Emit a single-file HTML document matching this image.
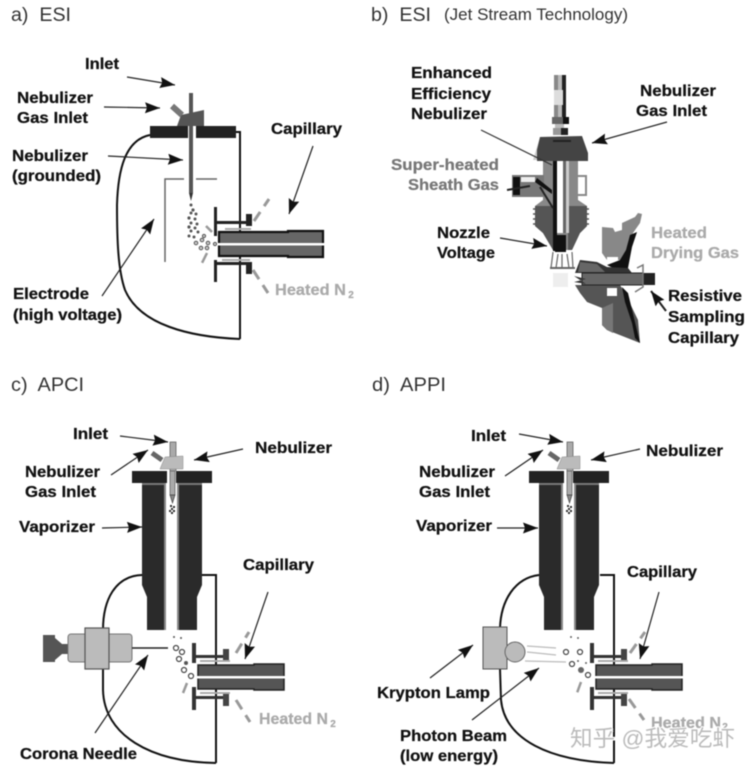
<!DOCTYPE html>
<html><head><meta charset="utf-8"><style>
html,body{margin:0;padding:0;background:#fff;width:752px;height:770px;overflow:hidden}
svg{display:block;filter:blur(.5px)}
text{font-family:"Liberation Sans","Noto Sans CJK SC",sans-serif}
.t{font-size:16px;font-weight:bold;fill:#111;stroke:#111;stroke-width:.25}
.h{font-size:19px;fill:#333}
.g1{fill:#aaa;stroke:#aaa}.g2{fill:#777;stroke:#777}
.a{stroke:#222;stroke-width:1.2;fill:none;marker-end:url(#m)}
.d{stroke:#999;stroke-width:3;stroke-dasharray:11 7;fill:none}
.w{stroke:#111;fill:none;stroke-width:2}
</style></head><body>
<svg width="752" height="770" viewBox="0 0 752 770" xmlns="http://www.w3.org/2000/svg">
<defs>
<marker id="m" markerUnits="userSpaceOnUse" markerWidth="16" markerHeight="12" refX="15" refY="5.5" orient="auto"><path d="M0 0L15 5.5L0 11L2 5.5Z" fill="#111"/></marker>
<g id="top">
<rect x="38" y="-29" width="6" height="30" fill="#aaa" stroke="#555" stroke-width=".7"/>
<rect x="0" y="0" width="80" height="12" fill="#222"/>
<rect x="35" y="0" width="9" height="12" fill="#fff"/>
<path d="M10 12H34V159H15V126L10 114Z" fill="#2a2a2a"/>
<path d="M45 12H70V114L65 126V159H45Z" fill="#2a2a2a"/>
<rect x="32" y="12" width="2" height="147" fill="#888"/>
<rect x="45" y="12" width="2" height="147" fill="#888"/>
<rect x="10" y="12" width="22" height="2" fill="#777"/>
<rect x="47" y="12" width="23" height="2" fill="#777"/>
<rect x="38" y="0" width="5" height="24" fill="#aaa" stroke="#555" stroke-width=".7"/>
<path d="M38 24H43L40.5 32Z" fill="#888" stroke="#444" stroke-width=".7"/>
<path d="M28 -2L33 -14L51 -15V-2Z" fill="#bbb" stroke="#888" stroke-width=".5"/>
<path d="M20 -18L30 -11" stroke="#666" stroke-width="5"/>
<g fill="#222"><circle cx="39" cy="35" r="1.1"/><circle cx="42" cy="36" r="1.1"/><circle cx="40" cy="38" r="1.1"/><circle cx="38" cy="40" r="1.1"/><circle cx="42" cy="40" r="1.1"/><circle cx="40" cy="42" r="1.1"/></g>
</g>
<g id="cap">
<path d="M1 1H57V0H87V26H57V25H1Z" fill="#555" stroke="#222" stroke-width="1.5"/>
<rect x="0" y="12" width="88" height="2.5" fill="#fff"/>
<rect x="-5" y="-21" width="4" height="20" fill="#333"/>
<rect x="-5" y="23" width="4" height="23" fill="#333"/>
<rect x="-3" y="-9" width="33" height="3" fill="#333"/>
<rect x="-1" y="32" width="32" height="3" fill="#333"/>
<rect x="26" y="-15" width="6" height="11" fill="#444"/>
<rect x="26" y="30" width="6" height="12" fill="#444"/>
<rect x="3" y="-4" width="30" height="2" fill="#aaa"/>
<rect x="3" y="28" width="30" height="2" fill="#aaa"/>
</g>
</defs>
<rect width="752" height="770" fill="#fff"/>

<!-- a -->
<text class="h" x="11" y="21" textLength="60" lengthAdjust="spacingAndGlyphs" xml:space="preserve">a)  ESI</text>
<path class="w" d="M236 132H240V339"/>
<path class="w" d="M150 135C125 140 118 170 117 205C117 240 118 270 125 290C140 325 190 337 240 339"/>
<path d="M165 262V179H184M196 179H217" fill="none" stroke="#666" stroke-width="1.5"/>
<rect x="189" y="93" width="4" height="35" fill="#555"/>
<rect x="150" y="126" width="86" height="12" fill="#222"/>
<rect x="188" y="126" width="8" height="12" fill="#fff"/>
<path d="M177 126L181 115L204 110V126Z" fill="#555"/>
<path d="M172 106L182 115" stroke="#777" stroke-width="6"/>
<rect x="189" y="126" width="4" height="67" fill="#555"/>
<path d="M189 193H193L191 201Z" fill="#333"/>
<g fill="#555"><circle cx="191" cy="205" r="1.5"/><circle cx="193" cy="210" r="1.6"/><circle cx="191" cy="213" r="1.5"/><circle cx="196" cy="214" r="1.5"/><circle cx="189" cy="218" r="1.6"/><circle cx="195" cy="219" r="1.5"/><circle cx="191" cy="223" r="1.5"/><circle cx="197" cy="224" r="1.5"/><circle cx="189" cy="227" r="1.6"/><circle cx="195" cy="228" r="1.5"/><circle cx="191" cy="231" r="1.5"/><circle cx="198" cy="232" r="1.5"/><circle cx="189" cy="236" r="1.5"/><circle cx="194" cy="237" r="1.5"/></g>
<g fill="#ccc" stroke="#555" stroke-width="1"><circle cx="196" cy="243" r="1.8"/><circle cx="202" cy="240" r="1.8"/><circle cx="208" cy="243" r="1.8"/><circle cx="215" cy="244" r="1.6"/><circle cx="201" cy="248" r="1.8"/><circle cx="207" cy="248" r="1.8"/><circle cx="204" cy="236" r="1.6"/></g>
<rect x="214" y="207" width="3" height="29" fill="#222"/>
<rect x="214" y="260" width="3" height="22" fill="#222"/>
<rect x="217" y="221" width="30" height="3" fill="#222"/>
<rect x="217" y="262" width="30" height="3" fill="#222"/>
<rect x="246" y="214" width="6" height="12" fill="#222"/>
<rect x="246" y="262" width="6" height="12" fill="#222"/>
<rect x="225" y="228" width="26" height="2" fill="#aaa"/>
<rect x="222" y="259" width="28" height="2" fill="#aaa"/>
<path d="M219 232H288V231H323V257H288V256H219Z" fill="#666" stroke="#111" stroke-width="2.2"/>
<rect x="217" y="243" width="108" height="2.5" fill="#fff"/>
<path class="d" d="M254 221L269 199"/>
<path class="d" d="M253 270L268 293"/>
<path class="d" d="M212 232L206 226M207 253L201 265" style="stroke-width:2.5"/>
<path class="a" d="M127 77L175 85"/>
<path class="a" d="M104 107L160 108"/>
<path class="a" d="M108 156L183 160"/>
<path class="a" d="M102 296L154 219"/>
<path class="a" d="M313 146L289 214"/>
<text class="t" x="85" y="69" textLength="34" lengthAdjust="spacingAndGlyphs">Inlet</text>
<text class="t" x="17" y="103" textLength="76" lengthAdjust="spacingAndGlyphs">Nebulizer</text>
<text class="t" x="17" y="123" textLength="71" lengthAdjust="spacingAndGlyphs">Gas Inlet</text>
<text class="t" x="12" y="161" textLength="76" lengthAdjust="spacingAndGlyphs">Nebulizer</text>
<text class="t" x="12" y="181" textLength="89" lengthAdjust="spacingAndGlyphs">(grounded)</text>
<text class="t" x="13" y="299" textLength="76" lengthAdjust="spacingAndGlyphs">Electrode</text>
<text class="t" x="13" y="320" textLength="109" lengthAdjust="spacingAndGlyphs">(high voltage)</text>
<text class="t" x="271" y="134" textLength="71" lengthAdjust="spacingAndGlyphs">Capillary</text>
<text class="t g1" x="275" y="295" textLength="71" lengthAdjust="spacingAndGlyphs">Heated N</text>
<text class="t g1" x="351" y="298" style="font-size:10px" text-anchor="middle">2</text>

<!-- b -->
<text class="h" x="371" y="21" textLength="60" lengthAdjust="spacingAndGlyphs" xml:space="preserve">b)  ESI</text>
<text x="444" y="20" font-size="16.5" fill="#333" textLength="184" lengthAdjust="spacingAndGlyphs">(Jet Stream Technology)</text>
<rect x="554" y="75" width="4" height="42" fill="#888"/>
<rect x="558" y="75" width="4" height="42" fill="#bbb"/>
<rect x="562" y="75" width="4" height="42" fill="#222"/>
<rect x="554" y="90" width="9" height="15" fill="#ddd"/>
<rect x="552" y="117" width="17" height="7" fill="#666"/><rect x="563" y="117" width="6" height="7" fill="#111"/>
<rect x="555" y="124" width="9" height="4" fill="#bbb"/>
<rect x="553" y="128" width="15" height="7" fill="#999"/><rect x="561" y="128" width="7" height="7" fill="#222"/>
<path d="M533 160L540 137H548L537 160Z" fill="#ccc"/>
<path d="M537 150L540 137L582 136L588 153V161H537Z" fill="#444"/>
<rect x="553" y="140" width="18" height="2" fill="#222"/>
<path d="M543 161H578V200L587 206V226L580 233L572 250H553L543 233L535 226V206L543 200Z" fill="#888"/>
<path d="M535 206H553V250L543 233L535 226ZM568 206H587V226L580 233L572 250H568Z" fill="#555"/>
<g stroke="#555" stroke-width="1.5"><path d="M533 209H537M533 214H537M533 219H537M533 224H537M585 209H589M585 214H589M585 219H589M585 224H589"/></g>
<rect x="553" y="161" width="4" height="90" fill="#111"/>
<rect x="557" y="161" width="6" height="72" fill="#fff"/>
<rect x="563" y="161" width="3" height="72" fill="#666"/>
<rect x="566" y="161" width="3" height="72" fill="#ccc"/>
<rect x="555" y="235" width="11" height="17" fill="#111"/>
<path d="M512 175H544V197H512Z" fill="#777"/>
<rect x="513" y="177" width="7" height="18" fill="#111"/><rect x="521" y="177" width="14" height="5" fill="#eee"/><path d="M537 178L552 190V194L535 182Z" fill="#111"/>
<path d="M507 190L530 186M540 187L553 208" stroke="#222" stroke-width="2" fill="none"/>
<path d="M578 176H586V195H578" fill="none" stroke="#888" stroke-width="2"/>
<path d="M553 252L551 268M572 252L573 268M558 254L556 268M567 254L569 268M562 254V268" stroke="#666" stroke-width="1.2" fill="none"/>
<rect x="550" y="267" width="25" height="2" fill="#666"/>
<rect x="553" y="273" width="15" height="14" fill="#eee"/>
<path d="M602 227L613 228L615 232L622 230L622 223L635 217L638 213L642 214L640 223L633 233L628 247L627 260H607L602 253Z" fill="#888"/>
<rect x="607" y="257" width="11" height="3" fill="#fff"/>
<path d="M637 232L632 247L628 268H613L607 265L620 260L626 250L630 235Z" fill="#111"/>
<path d="M575 273L580 260L597 262L607 267L628 268L632 273Z" fill="#333"/>
<path d="M580 262L597 264L605 272H578Z" fill="#666"/>
<path d="M575 285L580 293L587 302L602 308V325L607 330L640 343L638 320L625 293L620 285Z" fill="#555"/>
<path d="M602 308L613 303V333L607 330L602 325Z" fill="#777"/>
<path d="M622 287L628 293L640 343L635 338L632 323L625 302Z" fill="#111"/>
<rect x="607" y="288" width="10" height="8" fill="#fff"/>
<rect x="582" y="273" width="61" height="12" fill="#666" stroke="#222"/>
<rect x="643" y="273" width="12" height="12" fill="#222"/>
<path d="M574 276L586 279L574 282L586 284Z" fill="#333"/>
<path d="M637 268L643 265V287L635 292" fill="none" stroke="#777" stroke-width="1.5"/>
<path d="M481 130L552 165" stroke="#333" stroke-width="1.2"/>
<path class="a" d="M667 122L592 143"/>
<path class="a" d="M500 238L547 246"/>
<path class="a" d="M666 311L651 291" style="stroke-width:2"/>
<text class="t" x="411" y="78" textLength="81" lengthAdjust="spacingAndGlyphs">Enhanced</text>
<text class="t" x="411" y="99" textLength="80" lengthAdjust="spacingAndGlyphs">Efficiency</text>
<text class="t" x="411" y="119" textLength="76" lengthAdjust="spacingAndGlyphs">Nebulizer</text>
<text class="t" x="640" y="96" textLength="76" lengthAdjust="spacingAndGlyphs">Nebulizer</text>
<text class="t" x="636" y="116" textLength="71" lengthAdjust="spacingAndGlyphs">Gas Inlet</text>
<text class="t g2" x="391" y="170" textLength="108" lengthAdjust="spacingAndGlyphs">Super-heated</text>
<text class="t g2" x="408" y="190" textLength="91" lengthAdjust="spacingAndGlyphs">Sheath Gas</text>
<text class="t" x="437" y="238" textLength="53" lengthAdjust="spacingAndGlyphs">Nozzle</text>
<text class="t" x="437" y="258" textLength="58" lengthAdjust="spacingAndGlyphs">Voltage</text>
<text class="t g1" x="651" y="238" textLength="56" lengthAdjust="spacingAndGlyphs">Heated</text>
<text class="t g1" x="651" y="258" textLength="88" lengthAdjust="spacingAndGlyphs">Drying Gas</text>
<text class="t" x="668" y="301" textLength="74" lengthAdjust="spacingAndGlyphs">Resistive</text>
<text class="t" x="668" y="322" textLength="77" lengthAdjust="spacingAndGlyphs">Sampling</text>
<text class="t" x="668" y="343" textLength="71" lengthAdjust="spacingAndGlyphs">Capillary</text>

<!-- c -->
<text class="h" x="11" y="391" textLength="73" lengthAdjust="spacingAndGlyphs" xml:space="preserve">c)  APCI</text>
<path class="w" d="M202 575H216V763"/>
<path class="w" d="M142 575C115 576 103 600 103 630V690C104 735 150 762 216 763"/>
<use href="#top" x="132" y="471"/>
<rect x="43" y="635" width="12" height="27" fill="#555"/>
<path d="M55 638L62 644H68V654H62L55 660Z" fill="#555"/>
<rect x="68" y="634" width="64" height="28" rx="3" fill="#bbb" stroke="#777"/>
<rect x="85" y="628" width="24" height="41" fill="#bbb" stroke="#555" stroke-width="1.2"/>
<path d="M132 648H168" stroke="#222" stroke-width="1.5"/>
<g fill="#fff" stroke="#444" stroke-width="1.2"><circle cx="176" cy="648" r="2.5"/><circle cx="182" cy="652" r="2.5"/><circle cx="179" cy="659" r="2.5"/><circle cx="184" cy="670" r="2.5"/><circle cx="191" cy="676" r="2.5"/></g>
<g fill="#555"><circle cx="174" cy="637" r="1"/><circle cx="181" cy="638" r="1"/><circle cx="186" cy="663" r="2"/></g>
<use href="#cap" x="197" y="664"/>
<path class="d" d="M236 653L249 632"/>
<path class="d" d="M236 700L250 722"/>
<path class="d" d="M187 683L183 693" style="stroke-width:2.5"/>
<path class="a" d="M120 436L168 442"/>
<path class="a" d="M111 475L148 450"/>
<path class="a" d="M243 449L194 460"/>
<path class="a" d="M102 528L142 527"/>
<path class="a" d="M268 592L245 659"/>
<path class="a" d="M95 733L148 655"/>
<text class="t" x="73" y="439" textLength="35" lengthAdjust="spacingAndGlyphs">Inlet</text>
<text class="t" x="25" y="477" textLength="75" lengthAdjust="spacingAndGlyphs">Nebulizer</text>
<text class="t" x="25" y="497" textLength="71" lengthAdjust="spacingAndGlyphs">Gas Inlet</text>
<text class="t" x="255" y="453" textLength="77" lengthAdjust="spacingAndGlyphs">Nebulizer</text>
<text class="t" x="19" y="532" textLength="76" lengthAdjust="spacingAndGlyphs">Vaporizer</text>
<text class="t" x="243" y="570" textLength="71" lengthAdjust="spacingAndGlyphs">Capillary</text>
<text class="t g1" x="259" y="724" textLength="69" lengthAdjust="spacingAndGlyphs">Heated N</text>
<text class="t g1" x="333" y="727" style="font-size:10px" text-anchor="middle">2</text>
<text class="t" x="20" y="759" textLength="117" lengthAdjust="spacingAndGlyphs">Corona Needle</text>

<!-- d -->
<text class="h" x="372" y="391" textLength="74" lengthAdjust="spacingAndGlyphs" xml:space="preserve">d)  APPI</text>
<path class="w" d="M600 575H614V763"/>
<path class="w" d="M539 575C515 578 501 600 500 628M500 669L501 700C505 740 550 761 614 763"/>
<use href="#top" x="529" y="471"/>
<rect x="483" y="627" width="24" height="42" fill="#bbb" stroke="#555" stroke-width="1"/>
<circle cx="515" cy="652" r="10" fill="#bbb" stroke="#666"/>
<path d="M527 646L556 648M527 652L556 655M525 661L566 662" stroke="#bbb" stroke-width="1.2" fill="none"/>
<g fill="#fff" stroke="#444" stroke-width="1.2"><circle cx="566" cy="652" r="2.5"/><circle cx="580" cy="652" r="2.5"/><circle cx="572" cy="664" r="2.5"/><circle cx="588" cy="675" r="2.5"/></g>
<g fill="#666"><circle cx="581" cy="670" r="3"/><circle cx="571" cy="637" r="1"/><circle cx="578" cy="638" r="1"/><circle cx="578" cy="661" r="1"/><circle cx="586" cy="663" r="1"/></g>
<use href="#cap" x="595" y="664"/>
<path class="d" d="M630 653L645 632"/>
<path class="d" d="M629 699L644 720"/>
<path class="d" d="M581 682L577 693" style="stroke-width:2.5"/>
<path class="a" d="M519 434L563 442"/>
<path class="a" d="M505 476L543 450"/>
<path class="a" d="M640 449L591 460"/>
<path class="a" d="M497 528L538 528"/>
<path class="a" d="M659 592L640 659"/>
<path class="a" d="M430 678L473 645"/>
<path class="a" d="M472 720L539 668"/>
<text class="t" x="471" y="441" textLength="35" lengthAdjust="spacingAndGlyphs">Inlet</text>
<text class="t" x="419" y="477" textLength="76" lengthAdjust="spacingAndGlyphs">Nebulizer</text>
<text class="t" x="419" y="497" textLength="71" lengthAdjust="spacingAndGlyphs">Gas Inlet</text>
<text class="t" x="646" y="456" textLength="77" lengthAdjust="spacingAndGlyphs">Nebulizer</text>
<text class="t" x="416" y="531" textLength="76" lengthAdjust="spacingAndGlyphs">Vaporizer</text>
<text class="t" x="627" y="577" textLength="70" lengthAdjust="spacingAndGlyphs">Capillary</text>
<text class="t" x="377" y="698" textLength="113" lengthAdjust="spacingAndGlyphs">Krypton Lamp</text>
<text class="t" x="400" y="741" textLength="107" lengthAdjust="spacingAndGlyphs">Photon Beam</text>
<text class="t" x="400" y="761" textLength="98" lengthAdjust="spacingAndGlyphs">(low energy)</text>
<text class="t g1" x="651" y="728" textLength="70" lengthAdjust="spacingAndGlyphs">Heated N</text>
<text class="t g1" x="725" y="730" style="font-size:10px" text-anchor="middle">2</text>
<text x="570" y="746" font-size="22" fill="#bbb" stroke="#fff" stroke-width="2" paint-order="stroke" textLength="165" lengthAdjust="spacingAndGlyphs">知乎 @我爱吃虾</text>
</svg>
</body></html>
